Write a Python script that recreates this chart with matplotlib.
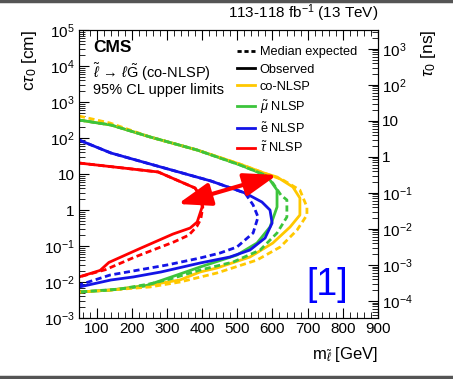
import matplotlib.pyplot as plt
from matplotlib.lines import Line2D
from matplotlib.ticker import FixedLocator, LogLocator, MultipleLocator, NullFormatter

plt.rcParams['font.family'] = ['Liberation Sans', 'DejaVu Sans']
plt.rcParams['mathtext.fontset'] = 'custom'
plt.rcParams['mathtext.rm'] = 'Liberation Sans'
plt.rcParams['mathtext.it'] = 'Liberation Sans:italic'
plt.rcParams['mathtext.bf'] = 'Liberation Sans:bold'

# ------------------------------------------ dados (m [GeV], c tau0 [cm]) -----------------------------------------------
co_obs_m = [50, 141, 252, 386, 508, 579, 613, 658, 678, 678, 650, 601, 536, 442, 394, 337, 252, 141, 50]
co_obs_ct = [316, 230, 107, 46.4, 18.8, 10.4, 8.25, 4.36, 2.15, 0.726, 0.337, 0.121, 0.0495, 0.0245, 0.019,
             0.0114, 0.0083, 0.006, 0.00527]
co_exp_m = [50, 138, 252, 386, 508, 579, 616, 630, 678, 698, 698, 670, 622, 556, 442, 337, 252, 141, 50]
co_exp_ct = [408, 261, 107, 46.4, 18.8, 10.4, 7.7, 6.8, 3.59, 1.21, 0.726, 0.278, 0.0938, 0.0408, 0.0178,
             0.0100, 0.0073, 0.006, 0.00527]

mu_obs_m = [50, 141, 252, 386, 508, 579, 593, 613, 613, 593, 556, 499, 394, 337, 238, 141, 50]
mu_obs_ct = [316, 230, 107, 46.4, 17.8, 9.38, 6.81, 3.59, 1.21, 0.337, 0.121, 0.0562, 0.0261, 0.0167, 0.00774,
             0.0060, 0.00527]
mu_exp_m = [50, 141, 252, 386, 508, 579, 601, 624, 641, 641, 613, 565, 488, 394, 309, 252, 167, 50]
mu_exp_ct = [316, 230, 107, 46.4, 17.8, 9.38, 5.62, 2.61, 1.90, 0.639, 0.230, 0.0774, 0.0359, 0.0215, 0.0121,
             0.0089, 0.0064, 0.00527]

e_obs_m = [50, 141, 283, 425, 522, 570, 593, 599, 579, 536, 479, 394, 283, 204, 141, 50]
e_obs_ct = [88, 38.3, 15.6, 6.4, 2.97, 1.67, 1.0, 0.435, 0.167, 0.0774, 0.0495, 0.0337, 0.019, 0.0138, 0.0114,
            0.00726]
e_exp_m = [50, 141, 283, 425, 522, 545, 559, 545, 499, 451, 394, 300, 138, 50]
e_exp_ct = [88, 38.3, 15.6, 6.4, 2.97, 1.38, 0.639, 0.23, 0.0938, 0.0639, 0.0464, 0.0297, 0.0156, 0.00825]

tau_obs_m = [50, 275, 380, 397, 400, 386, 366, 317, 223, 135, 110, 50]
tau_obs_ct = [20.2, 11.4, 4.08, 2.15, 1.21, 0.464, 0.316, 0.215, 0.085, 0.035, 0.021, 0.0138]
tau_exp_m = [50, 275, 380, 397, 402, 396, 385, 362, 320, 210, 125, 50]
tau_exp_ct = [20.2, 11.4, 4.08, 2.3, 1.2, 0.55, 0.35, 0.2, 0.13, 0.05, 0.022, 0.0138]

seta_m = [331, 613]
seta_ct = [1.47, 9.4]

y_ticks = [1e-3, 1e-2, 1e-1, 1, 10, 1e2, 1e3, 1e4, 1e5]
y_labels = ['$10^{-3}$', '$10^{-2}$', '$10^{-1}$', '1', '10', '$10^{2}$', '$10^{3}$', '$10^{4}$', '$10^{5}$']
tau_ticks = [1e-4, 1e-3, 1e-2, 1e-1, 1, 10, 1e2, 1e3]
tau_labels = ['$10^{-4}$', '$10^{-3}$', '$10^{-2}$', '$10^{-1}$', '1', '10', '$10^{2}$', '$10^{3}$']
c_cm_ns = 29.9792458

amarelo = '#ffc800'
verde = '#3cc43c'
azul = '#1414e6'
vermelho = '#ff0000'

# --------------------------------------------- PLOTAGEM ---------------------------------------------------------------
fig = plt.figure(figsize=(4.53, 3.79), dpi=100)
ax = fig.add_axes([0.1744, 0.1609, 0.66, 0.7599])

lw = 2.0
tracos = (2.2, 1.3)
for m, ct, cor in [(co_obs_m, co_obs_ct, amarelo), (mu_obs_m, mu_obs_ct, verde),
                   (e_obs_m, e_obs_ct, azul), (tau_obs_m, tau_obs_ct, vermelho)]:
    ax.plot(m, ct, color=cor, lw=lw, solid_joinstyle='round')
for m, ct, cor in [(co_exp_m, co_exp_ct, amarelo), (mu_exp_m, mu_exp_ct, verde),
                   (e_exp_m, e_exp_ct, azul), (tau_exp_m, tau_exp_ct, vermelho)]:
    ax.plot(m, ct, color=cor, lw=lw, dashes=tracos)

ax.annotate('', xy=(seta_m[0], seta_ct[0]), xytext=(seta_m[1], seta_ct[1]),
            arrowprops=dict(arrowstyle='<|-|>,head_length=1.0,head_width=0.35', mutation_scale=20,
                            color=vermelho, lw=3, shrinkA=0, shrinkB=0))

ax.set_xlim(50, 900)
ax.set_yscale('log')
ax.set_ylim(1e-3, 1e5)
ax.xaxis.set_major_locator(MultipleLocator(100))
ax.xaxis.set_minor_locator(MultipleLocator(20))
ax.yaxis.set_major_locator(FixedLocator(y_ticks))
ax.set_yticklabels(y_labels)
ax.yaxis.set_minor_locator(LogLocator(base=10, subs=range(2, 10), numticks=100))
ax.yaxis.set_minor_formatter(NullFormatter())
ax.tick_params(which='both', direction='in', top=True, right=False, labelsize=11, pad=3)
ax.tick_params(which='major', length=7)
ax.tick_params(which='minor', length=4)

ax2 = ax.twinx()
ax2.set_yscale('log')
ax2.set_ylim(1e-3 / c_cm_ns, 1e5 / c_cm_ns)
ax2.yaxis.set_major_locator(FixedLocator(tau_ticks))
ax2.set_yticklabels(tau_labels)
ax2.yaxis.set_minor_locator(LogLocator(base=10, subs=range(2, 10), numticks=100))
ax2.yaxis.set_minor_formatter(NullFormatter())
ax2.tick_params(which='both', direction='in', labelsize=11, pad=3)
ax2.tick_params(which='major', length=7)
ax2.tick_params(which='minor', length=4)

ax.set_ylabel(r'c$\tau_{0}$ [cm]', fontsize=12.5, loc='top', labelpad=4)
ax2.set_ylabel(r'$\tau_{0}$ [ns]', fontsize=12.5, loc='top', rotation=90, labelpad=4)
ax.set_xlabel(r'm$_{\tilde{\ell}}$ [GeV]', fontsize=12, loc='right', labelpad=6)

ax.text(1.0, 1.02, r'113-118 fb$^{-1}$ (13 TeV)', transform=ax.transAxes, ha='right', va='bottom', fontsize=11)
ax.text(0.047, 0.94, 'CMS', transform=ax.transAxes, fontsize=12.5, fontweight='bold', va='center')
ax.text(0.047, 0.855, r'$\tilde{\ell}\,\rightarrow\,\ell\tilde{\mathrm{G}}$ (co-NLSP)', transform=ax.transAxes,
        fontsize=10.5, va='center')
ax.text(0.047, 0.79, '95% CL upper limits', transform=ax.transAxes, fontsize=10.5, va='center')
ax.text(0.83, 0.115, '[1]', transform=ax.transAxes, fontsize=27, color='#0000ff', ha='center', va='center')

entradas = [Line2D([], [], color='black', lw=lw, dashes=(1.5, 1.0)),
            Line2D([], [], color='black', lw=lw),
            Line2D([], [], color=amarelo, lw=lw),
            Line2D([], [], color=verde, lw=lw),
            Line2D([], [], color=azul, lw=lw),
            Line2D([], [], color=vermelho, lw=lw)]
legendas = ['Median expected', 'Observed', 'co-NLSP', r'$\tilde{\mu}$ NLSP', r'$\tilde{\mathrm{e}}$ NLSP',
            r'$\tilde{\tau}$ NLSP']
ax.legend(entradas, legendas, loc='upper left', bbox_to_anchor=(0.498, 0.975), frameon=False, fontsize=9.2,
          handlelength=1.4, handletextpad=0.4, labelspacing=0.42, borderpad=0.2)

fig.add_artist(Line2D([0, 1], [0.997, 0.997], transform=fig.transFigure, color='#555555', lw=2.5))
fig.add_artist(Line2D([0, 1], [0.004, 0.004], transform=fig.transFigure, color='#555555', lw=2.5))

fig.savefig('out.png', dpi=100)
